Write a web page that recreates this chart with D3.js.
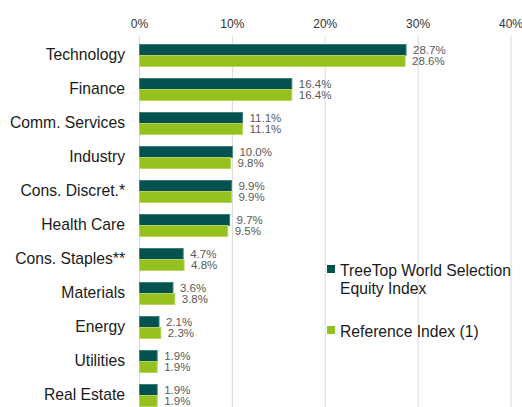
<!DOCTYPE html>
<html>
<head>
<meta charset="utf-8">
<script src="https://cdn.jsdelivr.net/npm/d3@7"></script>
<style>
    body { margin: 0; background: #fff; }
    svg { display: block; font-family: "Liberation Sans", Arial, sans-serif; }
</style>
</head>
<body>
<div id="chart"></div>
<script>
const categories = ['Technology', 'Finance', 'Comm. Services', 'Industry', 'Cons. Discret.*',
    'Health Care', 'Cons. Staples**', 'Materials', 'Energy', 'Utilities', 'Real Estate'];
const treeTop = [28.7, 16.4, 11.1, 10.0, 9.9, 9.7, 4.7, 3.6, 2.1, 1.9, 1.9];
const reference = [28.6, 16.4, 11.1, 9.8, 9.9, 9.5, 4.8, 3.8, 2.3, 1.9, 1.9];
const seriesNames = [['TreeTop World Selection', 'Equity Index'], ['Reference Index (1)']];
const ticks = [0, 10, 20, 30, 40];

const width = 522, height = 407;
const colors = ['#03524f', '#95c11f'];
const strokes = ['#3c7f7a', '#b5d560'];

const svg = d3.select('#chart').append('svg')
    .attr('width', width)
    .attr('height', height);

const x = d3.scaleLinear().domain([0, 40]).range([139.5, 511]);
const y = d3.scaleBand().domain(categories).range([38, 412]);

// gridlines
svg.append('g')
    .selectAll('line')
    .data(ticks)
    .enter()
    .append('line')
    .attr('x1', d => x(d)).attr('x2', d => x(d))
    .attr('y1', 36).attr('y2', height)
    .attr('stroke', '#d9d9d9')
    .attr('stroke-width', 1);

// top axis labels
svg.append('g')
    .selectAll('text')
    .data(ticks)
    .enter()
    .append('text')
    .attr('x', d => x(d))
    .attr('y', 28)
    .attr('text-anchor', 'middle')
    .attr('font-size', 12)
    .attr('fill', '#333')
    .text(d => d + '%');

const barH = 11;
const series = [treeTop, reference];

series.forEach((vals, s) => {
    const g = svg.append('g');
    const rows = categories.map((c, i) => ({ c, v: vals[i] }));
    g.selectAll('rect')
        .data(rows)
        .enter()
        .append('rect')
        .attr('x', x(0))
        .attr('y', d => y(d.c) + y.bandwidth() / 2 - barH + s * barH + 0.5)
        .attr('width', d => x(d.v) - x(0))
        .attr('height', barH)
        .attr('fill', colors[s])
        .attr('stroke', strokes[s])
        .attr('stroke-width', 1);

    g.selectAll('text')
        .data(rows)
        .enter()
        .append('text')
        .attr('x', d => x(d.v) + 7)
        .attr('y', d => y(d.c) + y.bandwidth() / 2 - barH / 2 + s * barH + 0.5)
        .attr('dy', '0.35em')
        .attr('font-size', 11.5)
        .attr('fill', '#595959')
        .text(d => d.v.toFixed(1) + '%');
});

// category labels
svg.append('g')
    .selectAll('text')
    .data(categories)
    .enter()
    .append('text')
    .attr('x', 125)
    .attr('y', d => y(d) + y.bandwidth() / 2)
    .attr('dy', '0.35em')
    .attr('text-anchor', 'end')
    .attr('font-size', 15.7)
    .attr('fill', '#1a1a1a')
    .text(d => d);

// legend
const legendY = [270, 331];
seriesNames.forEach((lines, s) => {
    const lg = svg.append('g').attr('transform', `translate(327,${legendY[s]})`);
    lg.append('rect')
        .attr('x', 0).attr('y', -5)
        .attr('width', 8).attr('height', 8)
        .attr('fill', colors[s]);
    lines.forEach((t, j) => {
        lg.append('text')
            .attr('x', 13)
            .attr('y', j * 19)
            .attr('dy', '0.35em')
            .attr('font-size', 15.7)
            .attr('fill', '#1a1a1a')
            .text(t);
    });
});
</script>
</body>
</html>
